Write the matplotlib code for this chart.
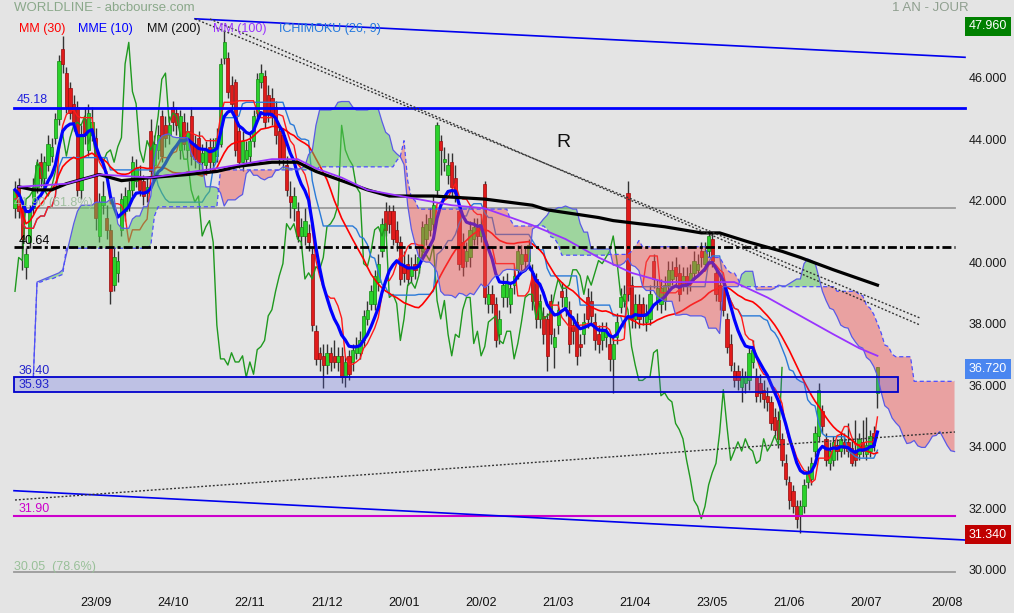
import numpy as np
import pandas as pd
import matplotlib
matplotlib.use("Agg")
import matplotlib.pyplot as plt
from matplotlib.patches import Rectangle

plt.rcParams['font.family'] = ['Liberation Sans', 'DejaVu Sans']
plt.rcParams['lines.scale_dashes'] = False

# ---------------- data ----------------
start_date = '2022-08-24'
market_holidays = ['2022-12-26', '2023-04-07', '2023-04-10', '2023-05-01']

opens = [
    41.9, 42.6, 41.9, 40.0, 40.8, 41.9, 42.6, 43.4, 42.9, 43.3,
    43.6, 44.2, 44.8, 47.1, 46.3, 45.8, 45.3, 45.2, 42.5, 44.8,
    43.8, 44.3, 44.2, 41.0, 42.0, 41.6, 41.2, 39.4, 39.8, 41.2,
    41.8, 42.0, 42.5, 42.8, 42.9, 42.8, 42.4, 44.4, 43.3, 43.8,
    44.9, 44.6, 44.3, 45.2, 45.0, 43.8, 44.7, 43.8, 44.9, 44.0,
    44.2, 43.4, 43.3, 43.9, 43.4, 43.6, 44.0, 46.8, 46.8, 45.9,
    46.0, 44.4, 43.4, 43.5, 43.6, 44.1, 45.0, 46.0, 46.2, 45.6,
    45.5, 45.2, 44.4, 44.3, 43.3, 42.3, 41.9, 41.8, 41.0, 41.0,
    41.1, 40.4, 37.9, 37.2, 37.1, 36.8, 37.2, 37.1, 36.9, 37.1,
    36.4, 37.1, 36.9, 37.2, 37.2, 37.6, 38.3, 38.8, 38.8, 39.5,
    40.5, 41.8, 41.8, 41.8, 41.2, 40.8, 40.0, 40.1, 39.7, 40.1,
    40.0, 40.5, 40.9, 41.2, 41.4, 42.5, 44.1, 43.4, 43.0, 43.4,
    42.9, 41.8, 40.8, 40.2, 40.3, 40.9, 41.3, 41.0, 42.7, 38.8,
    39.1, 38.8, 37.8, 39.0, 39.0, 38.8, 39.4, 39.9, 40.1, 40.4,
    40.2, 39.8, 39.6, 38.3, 38.4, 38.3, 38.9, 37.4, 38.1, 39.2,
    38.7, 38.6, 38.1, 38.2, 37.5, 37.8, 39.0, 38.9, 38.2, 37.8,
    37.6, 37.7, 37.5, 37.0, 37.7, 38.7, 38.9, 42.4, 39.4, 38.3,
    38.8, 38.8, 38.2, 38.3, 40.2, 38.9, 38.8, 38.9, 39.4, 39.6,
    40.0, 39.8, 39.4, 39.7, 39.5, 39.8, 39.9, 40.5, 40.1, 40.5,
    40.9, 39.8, 39.4, 39.3, 38.3, 37.5, 36.6, 36.6, 36.1, 36.2,
    36.3, 36.9, 36.4, 36.2, 36.0, 35.8, 35.6, 35.1, 35.0, 34.4,
    33.6, 33.0, 32.7, 32.2, 31.9, 32.2, 33.0, 33.1, 34.0, 34.5,
    35.3, 34.4, 33.6, 33.7, 34.2, 34.0, 34.3, 34.3, 34.1, 34.0,
    33.9, 34.3, 33.9, 34.0, 34.6, 35.9]
highs = [
    42.8, 42.9, 42.1, 40.6, 42.0, 42.9, 43.5, 43.7, 43.6, 44.3,
    44.2, 45.0, 46.9, 47.5, 46.5, 46.0, 45.6, 45.4, 44.6, 45.2,
    45.3, 45.2, 44.5, 42.4, 42.8, 42.0, 41.4, 40.6, 40.5, 42.4,
    42.6, 42.8, 43.6, 43.5, 43.3, 43.0, 42.9, 44.8, 44.3, 44.6,
    45.1, 44.9, 44.9, 45.4, 45.2, 45.1, 45.0, 44.7, 45.2, 44.3,
    44.4, 44.0, 44.1, 44.2, 44.2, 44.5, 46.8, 47.7, 47.0, 46.2,
    46.1, 44.6, 44.4, 44.1, 44.4, 45.1, 46.3, 46.6, 46.4, 45.9,
    45.8, 45.4, 44.6, 44.5, 43.6, 42.8, 42.6, 42.1, 41.6, 41.9,
    41.4, 40.6, 38.1, 37.4, 37.5, 37.5, 37.4, 37.6, 37.4, 37.4,
    37.1, 37.3, 37.5, 37.7, 37.9, 38.6, 38.9, 39.4, 39.9, 40.4,
    41.6, 42.1, 42.0, 42.0, 41.5, 41.0, 40.5, 40.4, 40.3, 40.4,
    40.6, 41.5, 41.7, 41.9, 42.3, 44.7, 44.3, 43.9, 43.7, 43.7,
    43.3, 42.0, 41.1, 40.8, 41.5, 41.6, 41.6, 41.7, 42.8, 39.4,
    39.4, 39.0, 38.6, 39.7, 39.8, 39.5, 40.0, 40.7, 40.7, 40.6,
    40.9, 40.1, 39.8, 39.1, 38.7, 38.5, 39.1, 38.0, 38.9, 39.5,
    39.3, 38.9, 38.4, 38.5, 37.8, 38.5, 39.3, 39.2, 38.5, 38.1,
    38.2, 38.2, 37.8, 37.7, 38.5, 39.3, 39.4, 42.8, 39.7, 39.1,
    39.1, 39.0, 38.8, 39.4, 40.4, 39.6, 39.6, 39.7, 40.2, 40.2,
    40.3, 40.1, 40.0, 40.0, 40.1, 40.5, 40.4, 40.8, 40.8, 41.2,
    41.1, 40.0, 39.7, 39.6, 38.5, 37.8, 36.9, 36.8, 36.7, 36.6,
    37.4, 37.6, 36.7, 36.5, 36.3, 36.1, 35.8, 35.4, 35.3, 34.6,
    33.9, 33.2, 32.9, 32.4, 32.4, 33.1, 33.5, 33.8, 34.8, 36.2,
    35.5, 34.6, 34.3, 34.5, 34.4, 34.6, 34.6, 34.9, 34.4, 35.0,
    34.6, 35.0, 35.1, 34.7, 34.8, 36.72]
lows = [
    41.6, 41.6, 39.9, 39.6, 40.6, 41.7, 42.4, 42.6, 42.7, 43.1,
    43.4, 44.0, 44.6, 46.3, 45.0, 44.8, 44.4, 42.3, 42.2, 44.0,
    43.6, 44.1, 41.2, 40.8, 41.7, 40.9, 38.8, 39.2, 39.5, 41.0,
    41.5, 41.8, 42.3, 42.6, 42.3, 42.0, 42.1, 42.9, 43.0, 43.5,
    43.4, 43.9, 44.0, 44.4, 44.3, 43.5, 43.8, 43.5, 43.3, 43.2,
    43.1, 43.1, 43.0, 43.1, 43.2, 43.4, 43.9, 46.6, 45.5, 45.0,
    43.6, 43.2, 43.1, 43.3, 43.4, 43.9, 44.8, 45.8, 44.5, 44.7,
    44.6, 44.0, 43.3, 43.2, 42.3, 41.6, 41.5, 40.8, 40.6, 40.7,
    40.5, 37.9, 36.8, 36.6, 36.05, 36.5, 36.6, 36.7, 36.6, 36.2,
    36.1, 36.3, 36.6, 37.0, 37.0, 37.4, 38.1, 38.6, 38.6, 39.2,
    40.3, 41.0, 41.1, 40.7, 40.5, 39.4, 39.5, 39.4, 39.5, 39.6,
    39.8, 40.3, 40.7, 41.0, 41.2, 42.3, 43.0, 43.1, 42.7, 42.3,
    42.1, 39.9, 39.7, 40.0, 40.0, 40.7, 40.7, 40.8, 38.8, 38.5,
    38.5, 37.4, 37.5, 38.7, 38.7, 38.5, 39.1, 39.6, 39.9, 39.9,
    39.9, 38.6, 38.0, 38.0, 37.5, 36.6, 37.5, 36.7, 37.8, 38.7,
    38.4, 37.2, 37.5, 36.8, 37.1, 37.5, 38.0, 38.1, 37.3, 37.2,
    37.3, 37.4, 36.6, 35.9, 37.5, 38.5, 38.7, 38.9, 38.0, 38.0,
    38.0, 38.1, 37.9, 38.1, 39.3, 38.6, 38.5, 38.6, 39.2, 39.4,
    39.4, 38.9, 39.2, 39.1, 39.2, 39.6, 39.7, 40.0, 39.9, 40.3,
    40.0, 38.9, 38.6, 38.4, 37.2, 36.6, 36.1, 36.0, 35.6, 35.9,
    36.0, 36.7, 35.6, 35.6, 35.4, 35.3, 34.7, 34.5, 34.1, 33.5,
    32.9, 32.1, 32.0, 31.5, 31.34, 32.0, 32.8, 32.9, 33.8, 34.3,
    34.6, 33.5, 33.4, 33.5, 33.7, 33.8, 33.9, 33.8, 33.5, 33.5,
    33.7, 33.8, 33.7, 33.8, 34.0, 35.4]
closes = [
    42.5, 41.8, 40.9, 40.4, 41.8, 42.6, 43.3, 42.9, 43.4, 44.0,
    43.9, 44.8, 46.7, 46.6, 45.2, 45.0, 44.7, 42.5, 44.3, 44.3,
    45.0, 44.7, 41.6, 42.1, 42.3, 41.2, 39.2, 40.3, 40.2, 42.2,
    42.3, 42.5, 43.4, 43.2, 42.5, 42.3, 42.6, 43.1, 44.0, 44.3,
    43.6, 44.2, 44.6, 44.7, 44.6, 44.9, 44.0, 44.4, 43.6, 43.5,
    43.4, 43.7, 43.8, 43.4, 43.9, 44.2, 46.6, 47.3, 45.7, 45.3,
    43.8, 43.4, 44.1, 43.8, 44.1, 44.9, 46.1, 46.3, 44.7, 45.0,
    44.9, 44.3, 43.5, 43.5, 42.5, 42.1, 42.3, 41.0, 41.3, 41.5,
    40.8, 38.1, 37.0, 37.0, 36.8, 37.2, 36.9, 36.9, 37.1, 36.4,
    36.9, 36.5, 37.3, 37.4, 37.6, 38.4, 38.6, 39.2, 39.7, 40.1,
    41.4, 41.2, 41.4, 40.9, 40.8, 39.6, 39.8, 39.6, 40.0, 39.9,
    40.3, 41.3, 41.4, 41.6, 42.0, 44.6, 43.8, 43.5, 43.3, 42.6,
    42.4, 40.1, 40.0, 40.5, 41.2, 41.3, 41.0, 41.4, 39.0, 39.1,
    38.8, 37.6, 38.3, 39.4, 39.5, 39.3, 39.7, 40.5, 40.4, 40.2,
    40.7, 38.9, 38.3, 38.9, 37.8, 37.1, 37.8, 37.7, 38.6, 39.0,
    39.0, 37.5, 37.9, 37.1, 37.4, 38.2, 38.3, 38.4, 37.6, 37.5,
    37.9, 37.9, 37.0, 37.5, 38.2, 39.0, 39.1, 39.1, 38.3, 38.8,
    38.3, 38.4, 38.5, 39.1, 39.6, 39.3, 39.3, 39.4, 39.9, 39.9,
    39.7, 39.1, 39.7, 39.4, 39.8, 40.2, 40.1, 40.3, 40.5, 41.0,
    40.2, 39.1, 38.9, 38.6, 37.4, 36.8, 36.3, 36.3, 36.4, 36.4,
    37.2, 37.3, 35.8, 35.9, 35.7, 35.6, 34.9, 34.7, 34.4, 33.7,
    33.1, 32.4, 32.2, 31.8, 32.2, 32.9, 33.3, 33.6, 34.6, 36.0,
    34.8, 33.7, 34.0, 34.3, 34.0, 34.4, 34.1, 34.0, 33.6, 33.7,
    34.4, 34.0, 34.2, 34.5, 34.2, 36.72]

# long moving averages (day index, value)
mm200_days = [1, 5, 10, 14, 23, 29, 37, 47, 55, 61, 70, 77, 82, 89, 96,
              102, 114, 128, 141, 145, 159, 163, 177, 187, 192, 200, 209,
              214, 223, 235]
mm200_vals = [42.6, 42.5, 42.5, 42.7, 43.0, 42.8, 42.9, 43.0, 43.1, 43.27,
              43.4, 43.4, 43.1, 42.8, 42.5, 42.3, 42.3, 42.2, 42.0, 41.85,
              41.6, 41.5, 41.3, 41.1, 41.1, 40.8, 40.5, 40.3, 39.9, 39.4]
mm100_days = [1, 14, 23, 37, 55, 70, 77, 82, 89, 96, 105, 119, 128, 141,
              150, 159, 168, 177, 187, 196, 205, 214, 223, 230, 235]
mm100_vals = [42.6, 42.7, 43.0, 42.9, 43.2, 43.5, 43.5, 43.2, 42.9, 42.5,
              42.3, 42.0, 41.9, 41.35, 40.9, 40.3, 39.8, 39.5, 39.5, 39.5,
              39.0, 38.4, 37.8, 37.35, 37.1]

# Ichimoku cloud for days 5..25 (built from data before the window)
senkou_a_head = [36.4, 39.5, 39.55, 39.6, 39.65, 39.7, 39.75, 39.8, 39.9, 40.4,
                 40.9, 41.4, 41.8, 42.0, 42.0, 42.0, 42.0, 42.1, 42.1, 42.1, 42.1]
senkou_b_head = [36.4, 39.5, 39.5, 39.55, 39.6, 39.6, 39.65, 39.7, 39.75, 40.6,
                 40.6, 40.6, 40.6, 40.6, 40.6, 40.6, 40.6, 40.6, 40.6, 40.6, 40.6]
# extremes of the period before the window
prior_days = [-22]
prior_highs = [44.8]
prior_lows = [36.40]

# horizontal levels
level_resist = 45.18
level_pivot = 40.64
level_fib618 = 41.90
level_fib786 = 30.05
level_support = 31.90
zone_low, zone_high = 35.93, 36.40
last_price, year_high, year_low = 36.720, 47.960, 31.340
price_ticks = [46, 44, 42, 40, 38, 36, 34, 32, 30]

date_label_text = ['23/09', '24/10', '22/11', '21/12', '20/01', '20/02',
                   '21/03', '21/04', '23/05', '21/06', '20/07', '20/08']
date_label_dates = ['2022-09-23', '2022-10-24', '2022-11-22', '2022-12-21',
                    '2023-01-20', '2023-02-20', '2023-03-21', '2023-04-21',
                    '2023-05-23', '2023-06-21', '2023-07-20', '2023-08-20']

# ---------------- frame (pixel geometry of the 1014x613 picture) ----------------
W, H = 1014, 613
X0_PX, DAY_PX = 15.0, 3.67
Y_REF_PX, Y_REF_PRICE, PRICE_PX = 574.0, 30.0, 30.73


def day_at(px):
    return (px - X0_PX) / DAY_PX


def price_at(py):
    return Y_REF_PRICE + (Y_REF_PX - py) / PRICE_PX


BG = '#e4e4e4'
fig = plt.figure(figsize=(W / 100, H / 100), dpi=100, facecolor=BG)
ax = fig.add_axes([0, 0, 1, 1])
ax.set_xlim(day_at(0), day_at(W))
ax.set_ylim(price_at(H), price_at(0))
ax.set_axis_off()

o = np.array(opens)
hi = np.array(highs)
lo = np.array(lows)
c = np.array(closes)
N = len(c)
days = np.arange(N)

# ---------------- indicators ----------------
cs, hs, ls = pd.Series(c), pd.Series(hi), pd.Series(lo)
mm30 = cs.rolling(30, min_periods=1).mean().values
mme10 = cs.ewm(span=10, adjust=False).mean().values
tenkan = ((hs.rolling(9, min_periods=1).max() + ls.rolling(9, min_periods=1).min()) / 2).values
kijun = ((hs.rolling(26, min_periods=1).max() + ls.rolling(26, min_periods=1).min()) / 2).values

ext_days = np.concatenate([prior_days, days])
ext_h = np.concatenate([prior_highs, hi])
ext_l = np.concatenate([prior_lows, lo])
b_src = []
for d in days:
    m = (ext_days <= d) & (ext_days >= d - 51)
    b_src.append((ext_h[m].max() + ext_l[m].min()) / 2)
b_src = np.array(b_src)

span_a = np.full(N + 26, np.nan)
span_b = np.full(N + 26, np.nan)
span_a[26:] = (tenkan + kijun) / 2
span_b[26:] = b_src
span_a[5:26] = senkou_a_head
span_b[5:26] = senkou_b_head
cloud_x = np.arange(N + 26)
keep = cloud_x <= day_at(958)
cx, ca, cb = cloud_x[keep], span_a[keep], span_b[keep]

# ---------------- candles ----------------
up = c >= o
ax.vlines(days, lo, hi, color='#333333', lw=1.0, zorder=2)
bottom = np.minimum(o, c)
height = np.maximum(np.abs(c - o), 0.05)
ax.bar(days[up], height[up], bottom=bottom[up], width=0.88, color='#2bd12b',
       edgecolor='#148a14', linewidth=0.5, zorder=2.1)
ax.bar(days[~up], height[~up], bottom=bottom[~up], width=0.88, color='#e01b1b',
       edgecolor='#9a0c0c', linewidth=0.5, zorder=2.1)

# ---------------- indicator lines (under the cloud) ----------------
ax.plot(days[26:] - 26, c[26:], color='#1f991f', lw=1.0, zorder=3)      # chikou
ax.plot(days, kijun, color='#2a7ad8', lw=1.0, zorder=3)                 # kijun
ax.plot(days, tenkan, color='#ff1a1a', lw=1.0, zorder=3)                # tenkan
ax.plot(days, mm30, color='#ff0000', lw=1.2, zorder=3.1)
ax.plot(days, mme10, color='#0000ff', lw=2.3, zorder=3.2)

# ---------------- cloud ----------------
ax.fill_between(cx, ca, cb, where=ca >= cb, interpolate=True,
                color='#5ac85a', alpha=0.5, lw=0, zorder=4)
ax.fill_between(cx, ca, cb, where=ca < cb, interpolate=True,
                color='#f05050', alpha=0.45, lw=0, zorder=4)
ax.plot(cx, ca, color='#5a5ae6', lw=0.9, zorder=4.5)
ax.plot(cx, cb, color='#4d4dff', lw=0.9, dashes=(3, 2), zorder=4.5)

# ---------------- long MAs ----------------
ax.plot(mm200_days, mm200_vals, color='#000000', lw=2.3, zorder=4.6)
ax.plot(mm100_days, mm100_vals, color='#9933ff', lw=1.3, zorder=4.7)

# ---------------- levels and drawings ----------------
ax.add_patch(Rectangle((day_at(14), zone_low), day_at(898) - day_at(14), zone_high - zone_low,
                       facecolor=(80 / 255, 90 / 255, 230 / 255, 0.25),
                       edgecolor='#0000cc', lw=1.3, zorder=5))
ax.plot([day_at(14), day_at(965)], [level_resist] * 2, color='#0000ff', lw=2.0, zorder=6)
ax.plot([day_at(14), day_at(955)], [level_pivot] * 2, color='#000000', lw=2.0,
        dashes=(6.5, 2.2, 2.2, 2.2), zorder=6)
ax.plot([day_at(14), day_at(955)], [level_fib618] * 2, color='#9a9a9a', lw=1.3, zorder=1.5)
ax.plot([day_at(14), day_at(955)], [level_fib786] * 2, color='#9a9a9a', lw=1.3, zorder=1.5)
ax.plot([day_at(14), day_at(955)], [level_support] * 2, color='#cc00cc', lw=1.5, zorder=6)

# trend channel and trendlines
ax.plot([day_at(195), day_at(965)], [price_at(18.8), price_at(57.3)], color='#0000ee', lw=1.2, zorder=6)
ax.plot([day_at(14), day_at(965)], [price_at(490.7), price_at(540.0)], color='#0000ee', lw=1.2, zorder=6)
ax.plot([day_at(15), day_at(955)], [price_at(500), price_at(432)], color='#333333', lw=1.0,
        dashes=(1.4, 1.4), zorder=6)
ax.plot([day_at(195), day_at(920)], [price_at(19), price_at(318)], color='#333333', lw=1.0,
        dashes=(1.4, 1.4), zorder=6)
ax.plot([day_at(210), day_at(920)], [price_at(19), price_at(325)], color='#333333', lw=1.0,
        dashes=(1.4, 1.4), zorder=6)

# ---------------- texts ----------------
def txt(px, py, s, **kw):
    kw.setdefault('va', 'center')
    kw.setdefault('ha', 'left')
    kw.setdefault('fontsize', 9)
    kw.setdefault('zorder', 7)
    ax.text(day_at(px), price_at(py), s, **kw)


txt(14, 8, 'WORLDLINE - abcbourse.com', color='#8aa88a', fontsize=9.5)
txt(930, 8, '1 AN - JOUR', color='#8f9f8f', fontsize=9.5, ha='center')
txt(19, 29, 'MM (30)', color='#ff0000')
txt(78, 29, 'MME (10)', color='#0000ff')
txt(147, 29, 'MM (200)', color='#111111')
txt(213, 29, 'MM (100)', color='#9933ff')
txt(279, 29, 'ICHIMOKU (26, 9)', color='#2277dd')

txt(17, 100, f'{level_resist:.2f}', color='#2222dd')
txt(14, 203, f'{level_fib618:.2f} (61.8%)', color='#a0c0a0')
txt(19, 241, f'{level_pivot:.2f}', color='#000000')
txt(19, 371, f'{zone_high:.2f}', color='#2222cc')
txt(19, 385, f'{zone_low:.2f}', color='#2222cc')
txt(19, 509, f'{level_support:.2f}', color='#cc00cc')
txt(14, 567, f'{level_fib786:.2f}  (78.6%)', color='#99c099')
txt(563, 143, 'R', fontsize=14, ha='center', color='#111111')

for p in price_ticks:
    ax.text(day_at(969), p + 3 / PRICE_PX, f'{p:.3f}', va='center', ha='left',
            fontsize=9, color='#1a1a1a', zorder=7)

txt(969, 26.5, f'{year_high:.3f}', color='white',
    bbox=dict(boxstyle='square,pad=0.3', fc='#008000', ec='none'))
txt(969, 369, f'{last_price:.3f}', color='white',
    bbox=dict(boxstyle='square,pad=0.3', fc='#4a86f0', ec='none'))
txt(969, 534.5, f'{year_low:.3f}', color='white',
    bbox=dict(boxstyle='square,pad=0.3', fc='#c00000', ec='none'))

label_pos = np.busday_count(start_date, date_label_dates, holidays=market_holidays)
for pos, lab in zip(label_pos, date_label_text):
    ax.text(pos, price_at(603), lab, ha='center', va='center', fontsize=9,
            color='#111111', zorder=7)

fig.savefig('out.png', dpi=100, facecolor=BG)
